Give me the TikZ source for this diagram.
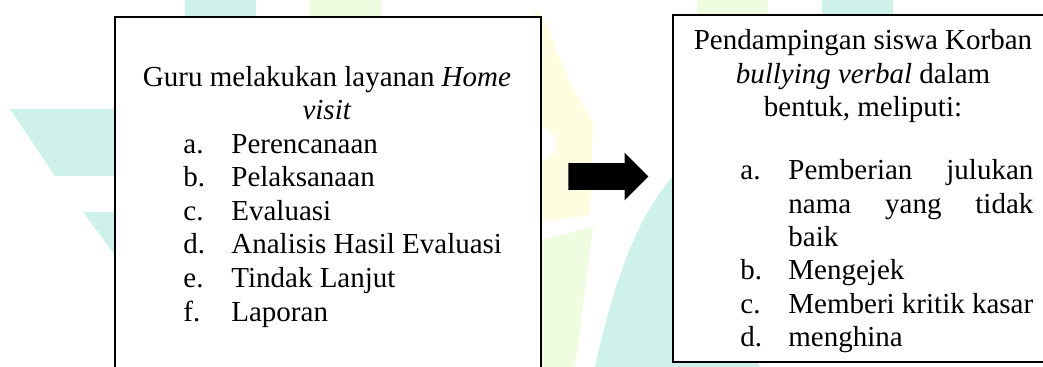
\documentclass[tikz,border=0pt]{standalone}
\usepackage{fontspec}
\setmainfont{Liberation Serif}
\usetikzlibrary{shapes.arrows}
\definecolor{wmteal}{RGB}{206,241,233}
\definecolor{wmgreen}{RGB}{239,252,224}
\definecolor{wmyellow}{RGB}{254,253,224}
\begin{document}
\begin{tikzpicture}[x=0.5pt,y=-0.5pt,
  txt/.style={inner sep=0pt, font=\fontsize{14.5pt}{16.8pt}\selectfont},
  box/.style={draw=black, line width=1pt, fill=white, inner sep=0pt},
  shade/.style={fill=black!22},
  blockarrow/.style={single arrow, fill=black, inner xsep=0pt, inner ysep=6.5pt,
     single arrow head extend=5.25pt, minimum height=40pt}]
\useasboundingbox (0,0) rectangle (1043,367);
\clip (0,0) rectangle (1043,367);
% watermark
\fill[wmteal] (185,0) rectangle (256,20);
\fill[wmgreen] (309,0) rectangle (382,20);
\fill[wmgreen] (697,0) rectangle (768,20);
\fill[wmteal] (822,0) rectangle (893,20);
\fill[wmteal] (10,109) -- (120,109) -- (120,176) -- (55,176) -- cycle;
\fill[wmteal] (83,212) -- (120,212) -- (120,262) -- cycle;
\fill[wmyellow] (535,10) .. controls (548,12) and (560,80) .. (593,120) -- (590,215) .. controls (570,218) and (555,220) .. (535,221) -- cycle;
\fill[white] (540,144) circle[radius=16];
\fill[wmgreen] (535,241) -- (593,227) -- (575,367) -- (535,367) -- cycle;
\fill[wmteal] (595,367) .. controls (612,290) and (635,215) .. (680,168) -- (760,367) -- cycle;
% shadows and boxes
\fill[shade] (116,18) rectangle (541.5,390);
\node[box, anchor=north west, minimum width=212.75pt, minimum height=187pt] (left) at (114,16) {};
\fill[shade] (674,16) rectangle (1070,363);
\node[box, anchor=north west, minimum width=194pt, minimum height=173.5pt] (right) at (672,14) {};
% left box text
\node[txt, anchor=base] (l1) at (327,87) {Guru melakukan layanan \textit{Home}};
\node[txt, anchor=base] (l2) at (327,120) {\textit{visit}};
\node[txt, anchor=base west] (la) at (183,153.5) {a.};
\node[txt, anchor=base west] (lat) at (231,153.5) {Perencanaan};
\node[txt, anchor=base west] (lb) at (183,187) {b.};
\node[txt, anchor=base west] (lbt) at (231,187) {Pelaksanaan};
\node[txt, anchor=base west] (lc) at (183,220.5) {c.};
\node[txt, anchor=base west] (lct) at (231,220.5) {Evaluasi};
\node[txt, anchor=base west] (ld) at (183,254) {d.};
\node[txt, anchor=base west] (ldt) at (231,254) {Analisis Hasil Evaluasi};
\node[txt, anchor=base west] (le) at (183,287.5) {e.};
\node[txt, anchor=base west] (let) at (231,287.5) {Tindak Lanjut};
\node[txt, anchor=base west] (lf) at (183,321.2) {f.};
\node[txt, anchor=base west] (lft) at (231,321.2) {Laporan};
% right box text
\node[txt, anchor=base] (r1) at (863,50) {Pendampingan siswa Korban};
\node[txt, anchor=base] (r2) at (863,83.3) {\textit{bullying verbal} dalam};
\node[txt, anchor=base] (r3) at (863,116.6) {bentuk, meliputi:};
\node[txt, anchor=base west] (ra) at (740,180) {a.};
\node[txt, anchor=base west] (rat) at (788,180) {\makebox[122.5pt][s]{Pemberian\hfill julukan}};
\node[txt, anchor=base west] (rat2) at (788,213.3) {\makebox[122.5pt][s]{nama\hfill yang\hfill tidak}};
\node[txt, anchor=base west] (rat3) at (788,246.7) {baik};
\node[txt, anchor=base west] (rb) at (740,280) {b.};
\node[txt, anchor=base west] (rbt) at (788,280) {Mengejek};
\node[txt, anchor=base west] (rc) at (740,313.3) {c.};
\node[txt, anchor=base west] (rct) at (788,313.3) {Memberi kritik kasar};
\node[txt, anchor=base west] (rd) at (740,346.7) {d.};
\node[txt, anchor=base west] (rdt) at (788,346.7) {menghina};
% block arrow
\node[blockarrow, anchor=tip] (arr) at (649,176.5) {};
\end{tikzpicture}
\end{document}
